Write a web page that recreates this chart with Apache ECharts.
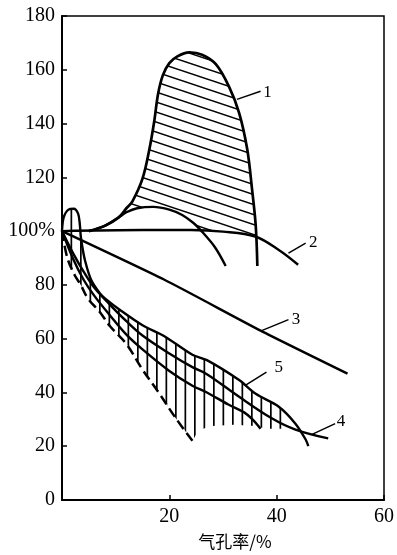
<!DOCTYPE html>
<html><head><meta charset="utf-8">
<script src="https://cdn.jsdelivr.net/npm/echarts@6/dist/echarts.min.js"></script>
<style>html,body{margin:0;padding:0;background:#fff}#c{width:397px;height:555px}</style>
</head><body><div id="c"></div>
<script>
// ---- data ----
const xTicks = [0, 20, 40, 60];
const yTicks = [0, 20, 40, 60, 80, 100, 120, 140, 160, 180];
const curve1 = [[5,100],[8,102],[10.5,105],[12,108.5],[13.1,111],[15,119.5],[16.3,130.6],[17.2,141],[17.9,151],[18.8,158],[20,162.5],[21.5,165],[23.7,166.5],[26.1,165.6],[28.7,162],[31.1,153.8],[33,144],[34.5,130.6],[35.4,115.8],[36.1,102],[36.4,87]];
const hump = [[5,100],[8,102],[10.5,105],[12,107],[14,108.5],[17,109],[20,108],[22.4,106],[24.5,103],[26,100],[28.5,94],[30.5,87]];
const curve2 = [[0,100],[15,100.4],[24,100.4],[30,99.8],[36,98],[40.4,93],[44,87.5]];
const curve3 = [[0,100],[19,82],[37,63],[53.2,47]];
const curve5 = [[0,100],[0.3,105],[1.2,108],[2.2,108.3],[3,106.5],[3.3,103],[3.5,98],[3.8,94],[4.3,89],[5.4,82],[7,77],[8,75],[11,70.4],[15,65],[19,61],[24.3,54],[27,52],[33,44.6],[36.1,39.5],[40.4,34.7],[43.5,28.4],[45.4,22.5],[45.9,20]];
const curve4 = [[0,100],[2,92],[4,85],[6,79],[9,72.5],[12,66.5],[15,61.2],[20,54.5],[24.3,49.4],[27,46.8],[33,38.4],[39,30.5],[43.5,26.2],[49.6,22.9]];
const curveC = [[0,100],[2,90],[4,82],[6,76],[9,68.5],[12,61.5],[15,56],[20,48],[24.3,42.5],[27,40],[31,35.5],[34,32.5],[35.5,30],[37,26.5]];
const dashed = [[0,100],[1,90],[2.4,83.5],[3.5,80],[4.8,75],[7,70],[9,64.5],[12,58],[15,48.5],[18,40],[21,31],[24.3,22]];
const hatch5Bottom = [[24.3,22],[25.5,26],[28,27.5],[32,28],[36,27.5],[38,26.5],[41.8,26.5],[41.8,32]];
const labelNames = ['1','2','3','4','5'];
const leaderFrom = [[32.6,149],[42.2,91.8],[37.2,63],[46.5,24.3],[34.3,42.8]];
const leaderTo = [[37,152],[45.4,95.5],[42.2,67.1],[50.9,28.4],[38.1,47.6]];
const labelPos = [[38.3,151.5],[46.8,95.9],[43.6,67.1],[52,29.1],[40.4,49.2]];

// ---- patterns ----
function slantPattern(){
  const c = document.createElement('canvas'); c.width = 30; c.height = 10;
  const g = c.getContext('2d'); g.strokeStyle = '#000'; g.lineWidth = 1.5;
  [-10,0,10].forEach(o=>{ g.beginPath(); g.moveTo(-3, -1+o); g.lineTo(33, 11+o); g.stroke(); });
  return c;
}
function vertPattern(){
  const c = document.createElement('canvas'); c.width = 19; c.height = 10;
  const g = c.getContext('2d'); g.fillStyle = '#000';
  g.fillRect(4, 0, 1.7, 10); g.fillRect(13.5, 0, 1.7, 10);
  return c;
}
const pat1 = {image: slantPattern(), repeat: 'repeat'};
const pat5 = {image: vertPattern(), repeat: 'repeat'};

// polygon 1: curve1 above, hump / curve2 below
const poly1 = [];
curve1.forEach(p=>{ if (p[0] >= 10.5 && p[0] <= 36.1) poly1.push(p); });
poly1.push([36.2, 98]);
curve2.slice().reverse().forEach(p=>{ if (p[0] < 36.2 && p[0] > 26) poly1.push(p); });
hump.slice().reverse().forEach(p=>{ if (p[0] <= 26 && p[0] >= 10.5) poly1.push(p); });
// polygon 5: curve5 above, dashed + bottom edge below
const poly5 = [];
curve5.forEach(p=>{ if (p[0] >= 1.2 && p[0] <= 41.8) poly5.push(p); });
hatch5Bottom.slice().reverse().forEach(p=>poly5.push(p));
dashed.slice().reverse().forEach(p=>{ if (p[0] < 24.3 && p[0] >= 1) poly5.push(p); });

const serif = '"Liberation Serif","DejaVu Serif",serif';
function lineSeries(data, extra){
  return Object.assign({type:'line', data, showSymbol:false, smooth:0.35, z:5,
    lineStyle:{color:'#000', width:2.4}, silent:true}, extra||{});
}
function polySeries(pts, fill){
  return {type:'custom', coordinateSystem:'cartesian2d', data:[[0,0]], z:2, silent:true,
    renderItem:(params, api)=>({type:'polygon', shape:{points: pts.map(p=>api.coord(p))},
      style:{fill: fill, stroke: null}})};
}

const chart = echarts.init(document.getElementById('c'), null, {renderer:'canvas'});
chart.setOption({
  animation:false,
  grid:{left:62, right:11, top:16, bottom:51, show:true, borderColor:'#000', borderWidth:1.5},
  xAxis:{type:'value', min:xTicks[0], max:xTicks[xTicks.length-1], interval:20,
    axisLine:{lineStyle:{color:'#000', width:2}}, splitLine:{show:false},
    axisTick:{inside:true, length:5, lineStyle:{color:'#000', width:1.5}},
    axisLabel:{showMinLabel:false, color:'#000', fontFamily:serif, fontSize:20, margin:7},
    name:'气孔率/%', nameLocation:'middle', nameGap:33,
    nameTextStyle:{color:'#000', fontFamily:'"Noto Sans CJK SC",sans-serif', fontSize:17, padding:[0,0,0,24]}},
  yAxis:{type:'value', min:yTicks[0], max:yTicks[yTicks.length-1], interval:20,
    axisLine:{show:true, lineStyle:{color:'#000', width:2}}, splitLine:{show:false},
    axisTick:{show:true, inside:true, length:5, lineStyle:{color:'#000', width:1.5}},
    axisLabel:{color:'#000', fontFamily:serif, fontSize:20, margin:7,
      formatter:v=> v===100 ? '100%' : String(v)}},
  series:[
    polySeries(poly1, pat1),
    polySeries(poly5, pat5),
    lineSeries(curve1, {lineStyle:{color:'#000', width:2.7}}),
    lineSeries(hump),
    lineSeries(curve2),
    lineSeries(curve3, {smooth:0.2}),
    lineSeries(curve5, {smooth:0.3}),
    lineSeries(curve4),
    lineSeries(curveC),
    lineSeries(dashed, {lineStyle:{color:'#000', width:2.5, type:[10,5]}}),
    {type:'custom', coordinateSystem:'cartesian2d', silent:true, z:6,
      data: labelNames.map((n,i)=>[leaderFrom[i][0], leaderFrom[i][1], i]),
      renderItem:(params, api)=>{
        const i = api.value(2);
        const a = api.coord(leaderFrom[i]), b = api.coord(leaderTo[i]), t = api.coord(labelPos[i]);
        return {type:'group', children:[
          {type:'line', shape:{x1:a[0], y1:a[1], x2:b[0], y2:b[1]}, style:{stroke:'#000', lineWidth:1.5}},
          {type:'text', x:t[0], y:t[1], style:{text:labelNames[i], fill:'#000', font:'17px '+serif, align:'center', verticalAlign:'middle'}}
        ]};
      }}
  ]
});
</script></body></html>
